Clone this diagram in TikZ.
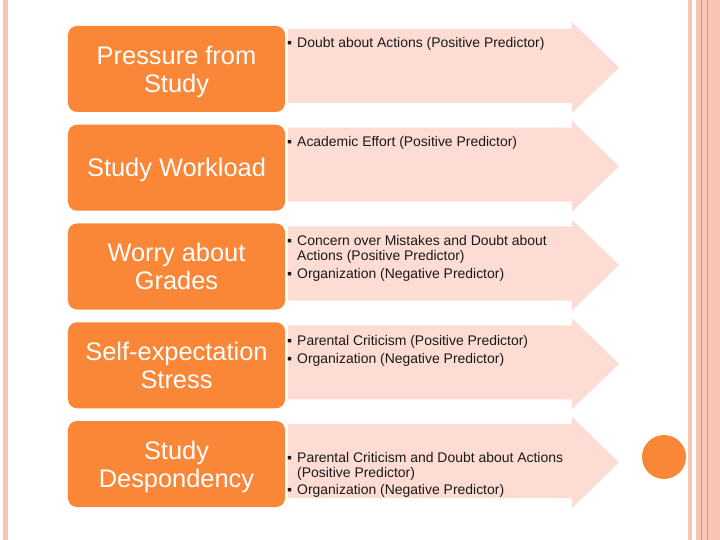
\documentclass[tikz,border=0pt]{standalone}
\usepackage{fontspec}
\setmainfont{Liberation Sans}
\definecolor{boxorange}{RGB}{250,134,56}
\definecolor{arrowpink}{RGB}{253,220,211}
\definecolor{bandpink}{RGB}{248,197,180}
\definecolor{bandline}{RGB}{238,142,104}
\definecolor{bodytext}{RGB}{25,25,25}
\tikzset{
  catbox/.style={fill=boxorange, rounded corners=9bp, minimum width=217bp, minimum height=86bp,
    inner sep=0pt, text=white, font=\fontsize{25.5}{28}\selectfont, align=center, text depth=0pt},
  bul/.style={anchor=base west, inner sep=0pt, text=bodytext, font=\fontsize{14}{15}\selectfont},
  btext/.style={anchor=base west, inner sep=0pt, text=bodytext, font=\fontsize{14}{15}\selectfont},
}
\begin{document}
\begin{tikzpicture}[x=1bp,y=-1bp]
\useasboundingbox (0,0) rectangle (720,540);
\fill[white] (0,0) rectangle (720,540);
% side bands
\fill[bandpink] (3,0) rectangle (8,540);
\fill[bandpink] (688,0) rectangle (720,540);
\fill[white] (691.7,0) rectangle (696,540);
\fill[bandline] (701,0) rectangle (702.4,540);
\fill[bandline] (706.7,0) rectangle (708,540);
% arrows
\foreach \t in {26,124.75,223.5,322.25,421}{
  \fill[arrowpink] (288,\t+3) -- (572,\t+3) -- (572,\t-4) -- (619,\t+41.5)
     -- (572,\t+87) -- (572,\t+77) -- (288,\t+77) -- cycle;
}
% category boxes
\node[catbox] (c1) at (176.5,69)    {Pressure from\\Study};
\node[catbox] (c2) at (176.5,167.75) {Study Workload};
\node[catbox] (c3) at (176.5,266.5) {Worry about\\Grades};
\node[catbox] (c4) at (176.5,365.25) {Self-expectation\\Stress};
\node[catbox] (c5) at (176.5,464)   {Study\\Despondency};
% bullet texts
\node[bul] (b1) at (287,48) {▪};
\node[btext] (t1) at (297,48) {Doubt about Actions (Positive Predictor)};
\node[bul] (b2) at (287,147) {▪};
\node[btext] (t2) at (297,147) {Academic Effort (Positive Predictor)};
\node[bul] (b3a) at (287,246) {▪};
\node[btext] (t3a) at (297,246) {Concern over Mistakes and Doubt about};
\node[btext] (t3b) at (297,261) {Actions (Positive Predictor)};
\node[bul] (b3c) at (287,279) {▪};
\node[btext] (t3c) at (297,279) {Organization (Negative Predictor)};
\node[bul] (b4a) at (287,345) {▪};
\node[btext] (t4a) at (297,345) {Parental Criticism (Positive Predictor)};
\node[bul] (b4b) at (287,363) {▪};
\node[btext] (t4b) at (297,363) {Organization (Negative Predictor)};
\node[bul] (b5a) at (287,462) {▪};
\node[btext] (t5a) at (297,462) {Parental Criticism and Doubt about Actions};
\node[btext] (t5b) at (297,477) {(Positive Predictor)};
\node[bul] (b5c) at (287,494) {▪};
\node[btext] (t5c) at (297,494) {Organization (Negative Predictor)};
% decorative dot
\node[circle, fill=boxorange, minimum size=44bp, inner sep=0pt] (dot) at (664,457) {};
\end{tikzpicture}
\end{document}
